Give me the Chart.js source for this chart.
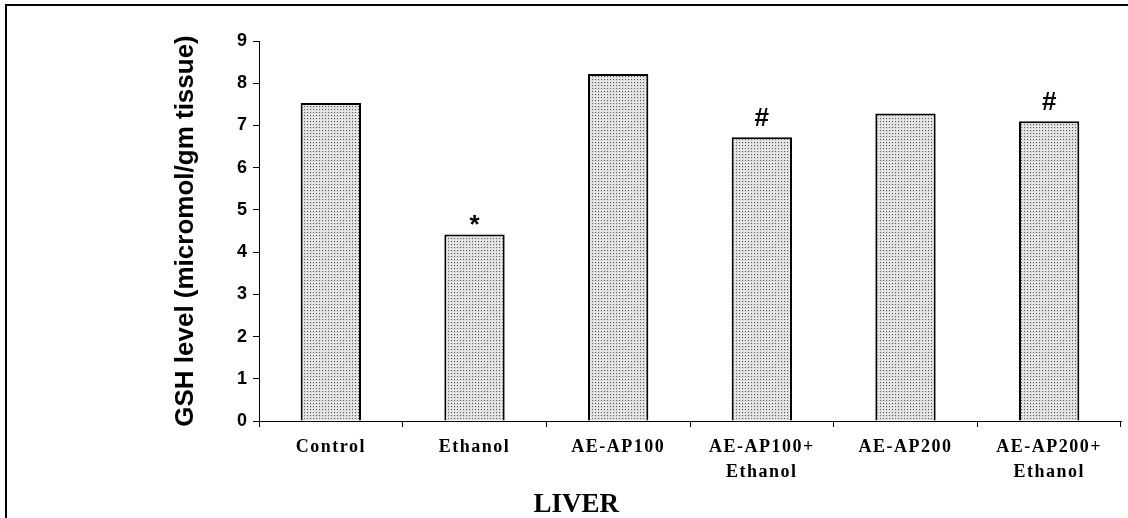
<!DOCTYPE html>
<html>
<head>
<meta charset="utf-8">
<script src="https://cdn.jsdelivr.net/npm/chart.js@4"></script>
<style>
  html, body { margin: 0; padding: 0; background: #fff; }
  #wrap { position: relative; width: 1128px; height: 518px; overflow: hidden; }
  #frame { position: absolute; left: 5px; top: 4px; width: 1200px; height: 600px;
           border-top: 2px solid #000; border-left: 2px solid #000; }
  canvas { position: absolute; left: 0; top: 0; }
</style>
</head>
<body>
<div id="wrap">
  <div id="frame"></div>
  <canvas id="gshChart" width="1128" height="518"></canvas>
</div>
<script>
// GSH level in liver, per treatment group
const categories = [
  ["Control"], ["Ethanol"], ["AE-AP100"],
  ["AE-AP100+", "Ethanol"], ["AE-AP200"], ["AE-AP200+", "Ethanol"]
];
const gshValues = [7.53, 4.42, 8.22, 6.72, 7.28, 7.10];
const markers = ["", "*", "", "#", "", "#"];
const yMin = 0, yMax = 9, yStep = 1;

// stippled grey fill like the original
function dotPattern() {
  const c = document.createElement("canvas");
  c.width = 3; c.height = 3;
  const g = c.getContext("2d");
  g.fillStyle = "#dedede"; g.fillRect(0, 0, 3, 3);
  g.fillStyle = "#f6f6f6"; g.fillRect(0, 0, 1, 1);
  g.fillStyle = "#5a5a5a"; g.fillRect(1, 1, 1, 1);
  return g.createPattern(c, "repeat");
}

// wider letter spacing on the serif x labels
const spacedLabels = {
  id: "spacedLabels",
  beforeDraw(chart) {
    const s = chart.scales.x;
    if (!s || s._spaced) return;
    const orig = s.drawLabels.bind(s);
    s.drawLabels = function (area) {
      const ctx = chart.ctx;
      ctx.save();
      ctx.letterSpacing = "1.5px";
      orig(area);
      ctx.restore();
    };
    s._spaced = true;
  }
};

// significance marks above bars + the "LIVER" caption
const annotations = {
  id: "annotations",
  afterDatasetsDraw(chart) {
    const ctx = chart.ctx;
    const meta = chart.getDatasetMeta(0);
    ctx.save();
    ctx.fillStyle = "#000";
    ctx.textAlign = "center";
    ctx.textBaseline = "alphabetic";
    meta.data.forEach((bar, i) => {
      const m = markers[i];
      if (!m) return;
      ctx.font = "bold 26px 'Liberation Sans', Arial, sans-serif";
      ctx.fillText(m, bar.x, bar.y - (m === "*" ? 1 : 11));
    });
    const a = chart.chartArea;
    ctx.font = "bold 27px 'Liberation Serif', 'Times New Roman', serif";
    ctx.textBaseline = "middle";
    ctx.fillText("LIVER", a.left + 0.368 * (a.right - a.left), a.bottom + 84);
    ctx.restore();
  }
};

new Chart(document.getElementById("gshChart"), {
  type: "bar",
  data: {
    labels: categories,
    datasets: [{
      data: gshValues,
      backgroundColor: dotPattern(),
      borderColor: "#000",
      borderWidth: 2,
      borderSkipped: "bottom",
      barPercentage: 0.42,
      categoryPercentage: 1
    }]
  },
  options: {
    responsive: false,
    animation: false,
    layout: { padding: { left: 166, top: 41, right: 7, bottom: 0 } },
    plugins: {
      legend: { display: false },
      tooltip: { enabled: false }
    },
    scales: {
      x: {
        offset: true,
        grid: { offset: true, drawOnChartArea: false, drawTicks: true, tickLength: 6, color: "#000" },
        border: { display: true, color: "#000", width: 1 },
        ticks: {
          color: "#000",
          padding: 8,
          maxRotation: 0,
          autoSkip: false,
          font: { family: "'Liberation Serif', 'Times New Roman', serif", size: 18, weight: "bold", lineHeight: "25px" }
        },
        afterFit(scale) { scale.height = 97; }
      },
      y: {
        min: yMin,
        max: yMax,
        grid: { drawOnChartArea: false, drawTicks: true, tickLength: 6, color: "#000" },
        border: { display: true, color: "#000", width: 1 },
        ticks: {
          stepSize: yStep,
          color: "#000",
          padding: 6,
          font: { family: "'Liberation Sans', Arial, sans-serif", size: 18, weight: "bold" }
        },
        title: {
          display: true,
          text: "GSH level (micromol/gm tissue)",
          color: "#000",
          padding: { top: 4, bottom: 0 },
          font: { family: "'Liberation Sans', Arial, sans-serif", size: 26, weight: "bold" }
        },
        afterFit(scale) { scale.width = 93; }
      }
    }
  },
  plugins: [spacedLabels, annotations]
});
</script>
</body>
</html>
